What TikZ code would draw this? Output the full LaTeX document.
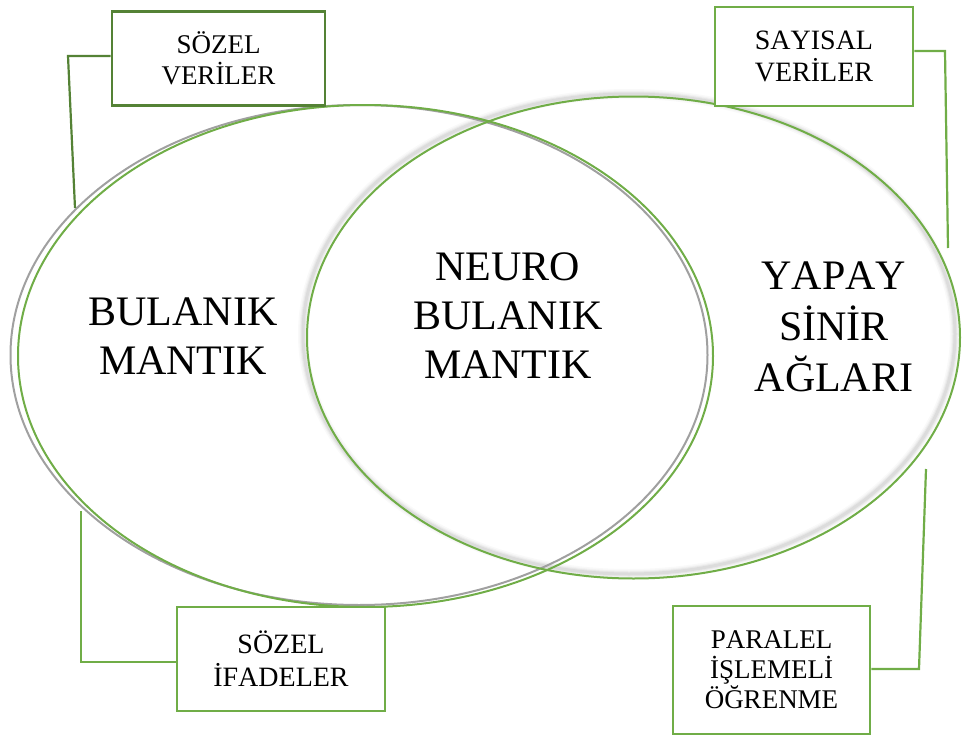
\documentclass[tikz,border=0pt]{standalone}
\usepackage{fontspec}
\setmainfont[Kerning=Off]{Liberation Serif}
\definecolor{lgreen}{HTML}{70AD47}
\definecolor{dgreen}{HTML}{548235}
\definecolor{egray}{HTML}{A0A0A0}
\begin{document}
\begin{tikzpicture}[x=1pt,y=-1pt,
  boxstyle/.style={draw=lgreen, line width=2.6pt, fill=white, inner sep=0pt, align=center,
    font=\fontsize{27}{31}\selectfont},
  conn/.style={draw=lgreen, line width=2.2pt},
  bigtext/.style={align=center, font=\fontsize{42}{49}\selectfont},
]
\useasboundingbox (0,0) rectangle (962,736);
% shadow of right ellipse (soft)
\foreach \w/\o in {10/0.04,7/0.05,5/0.07,3/0.09}{
  \draw[black!60, opacity=\o, line width=\w pt] (629,334) ellipse [x radius=326, y radius=240];
}
% left ellipse: gray + green
\draw[egray, line width=2pt] (359,355) ellipse [x radius=348.5, y radius=250];
\draw[lgreen, line width=2pt] (365.5,356) ellipse [x radius=347.5, y radius=251];
% right ellipse
\draw[lgreen, line width=2pt] (633.5,337.5) ellipse [x radius=326.5, y radius=241];

% big texts
\node[bigtext] (bm) at (183,336) {BULANIK\\MANTIK};
\node[bigtext] (nbm) at (508,316) {NEURO\\BULANIK\\MANTIK};
\node[bigtext, font=\fontsize{42}{51}\selectfont] (ysa) at (834,327) {YAPAY\\SİNİR\\AĞLARI};

% boxes
\node[boxstyle, draw=dgreen, minimum width=213pt, minimum height=94pt] (sv) at (218.5,58.5) {SÖZEL\\VERİLER};
\node[boxstyle, minimum width=198pt, minimum height=99pt, font=\fontsize{28}{32}\selectfont] (sy) at (814,56.5) {SAYISAL\\VERİLER};
\node[boxstyle, minimum width=208pt, minimum height=104pt, font=\fontsize{28}{33}\selectfont] (si) at (281,659) {SÖZEL\\İFADELER};
\node[boxstyle, minimum width=197pt, minimum height=128pt, font=\fontsize{27}{30}\selectfont] (pio) at (771.5,670) {PARALEL\\İŞLEMELİ\\ÖĞRENME};

% connector points
\coordinate (a1) at (68,56);
\coordinate (a2) at (75,208);
\coordinate (b1) at (945,51);
\coordinate (b2) at (948,248);
\coordinate (c1) at (81,662);
\coordinate (c2) at (81,511);
\coordinate (d1) at (919,669);
\coordinate (d2) at (926,469);

\draw[conn, draw=dgreen] (sv.west |- a1) -- (a1) -- (a2);
\draw[conn] (sy.east |- b1) -- (b1) -- (b2);
\draw[conn] (si.west |- c1) -- (c1) -- (c2);
\draw[conn] (pio.east |- d1) -- (d1) -- (d2);
\end{tikzpicture}
\end{document}
